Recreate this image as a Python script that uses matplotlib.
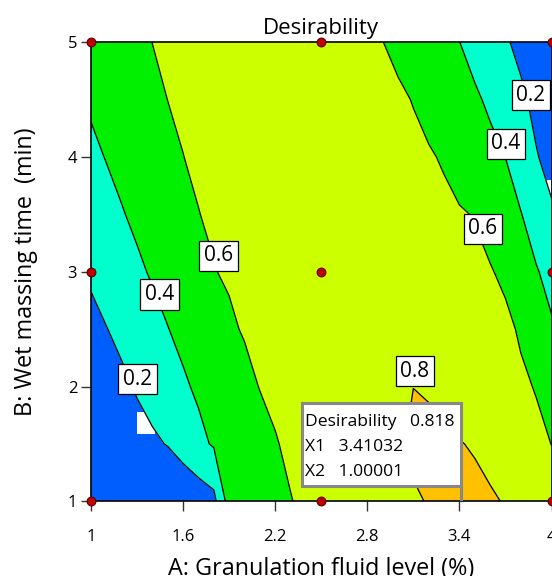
import numpy as np
import matplotlib
matplotlib.use("Agg")
import matplotlib.pyplot as plt
from matplotlib.patches import Rectangle

plt.rcParams['font.family'] = ['Open Sans', 'DejaVu Sans']

# ---------------- data ----------------
# grid of factor A (granulation fluid level, %) and factor B (wet massing time, min)
fluid_level = np.linspace(1.0, 4.0, 31)
massing_time = np.array([1.0, 1.5, 2.0, 2.5, 3.0, 3.5, 4.0, 4.5, 5.0])

# estimated desirability on the grid (rows: massing_time, cols: fluid_level)
desirability = np.array([
    [0.00, 0.00, 0.00, 0.00, 0.00, 0.00, 0.04, 0.09, 0.146, 0.485, 0.513, 0.541, 0.568, 0.596, 0.621, 0.645,
     0.669, 0.693, 0.718, 0.742, 0.766, 0.791, 0.804, 0.811, 0.817, 0.812, 0.808, 0.796, 0.754, 0.712, 0.670],
    [0.00, 0.03, 0.08, 0.134, 0.17, 0.209, 0.283, 0.357, 0.418, 0.462, 0.506, 0.550, 0.593, 0.620, 0.644, 0.668,
     0.692, 0.716, 0.740, 0.764, 0.788, 0.815, 0.813, 0.809, 0.802, 0.796, 0.780, 0.730, 0.690, 0.645, 0.598],
    [0.06, 0.11, 0.162, 0.217, 0.27, 0.323, 0.377, 0.426, 0.472, 0.518, 0.564, 0.604, 0.623, 0.642, 0.661, 0.681,
     0.700, 0.719, 0.738, 0.757, 0.776, 0.7995, 0.795, 0.788, 0.775, 0.739, 0.703, 0.667, 0.631, 0.5895, 0.52],
    [0.13, 0.195, 0.246, 0.296, 0.346, 0.396, 0.442, 0.489, 0.535, 0.582, 0.610, 0.626, 0.642, 0.658, 0.674, 0.690,
     0.706, 0.722, 0.738, 0.754, 0.770, 0.768, 0.762, 0.750, 0.730, 0.705, 0.675, 0.640, 0.578, 0.499, 0.42],
    [0.237, 0.282, 0.327, 0.372, 0.417, 0.462, 0.506, 0.551, 0.596, 0.613, 0.628, 0.642, 0.657, 0.672, 0.686, 0.701,
     0.715, 0.730, 0.728, 0.722, 0.712, 0.700, 0.685, 0.668, 0.648, 0.628, 0.612, 0.565, 0.482, 0.413, 0.345],
    [0.307, 0.349, 0.390, 0.432, 0.473, 0.515, 0.557, 0.598, 0.614, 0.629, 0.644, 0.659, 0.675, 0.690, 0.705, 0.720,
     0.718, 0.713, 0.705, 0.695, 0.682, 0.666, 0.648, 0.632, 0.612, 0.594, 0.532, 0.469, 0.407, 0.316, 0.22],
    [0.367, 0.406, 0.445, 0.483, 0.522, 0.561, 0.599, 0.614, 0.629, 0.643, 0.657, 0.671, 0.686, 0.700, 0.699, 0.696,
     0.691, 0.684, 0.676, 0.666, 0.654, 0.634, 0.614, 0.586, 0.539, 0.493, 0.446, 0.399, 0.299, 0.21, 0.15],
    [0.421, 0.457, 0.493, 0.529, 0.565, 0.601, 0.613, 0.626, 0.639, 0.652, 0.664, 0.677, 0.690, 0.688, 0.683, 0.675,
     0.665, 0.655, 0.645, 0.636, 0.625, 0.594, 0.552, 0.510, 0.467, 0.425, 0.372, 0.301, 0.230, 0.16, 0.09],
    [0.447, 0.486, 0.525, 0.563, 0.601, 0.612, 0.623, 0.635, 0.646, 0.657, 0.669, 0.680, 0.678, 0.673, 0.666, 0.657,
     0.646, 0.634, 0.620, 0.602, 0.562, 0.522, 0.482, 0.442, 0.402, 0.341, 0.280, 0.218, 0.158, 0.098, 0.04],
])

# design points (3x3 factorial)
design_a = [1, 2.5, 4, 1, 2.5, 4, 1, 2.5, 4]
design_b = [5, 5, 5, 3, 3, 3, 1, 1, 1]

contour_levels = [0.2, 0.4, 0.6, 0.8]
label_texts = ['0.6', '0.4', '0.2', '0.6', '0.4', '0.2', '0.8']
label_a = [1.831, 1.447, 1.303, 3.552, 3.704, 3.866, 3.111]
label_b = [3.139, 2.802, 2.065, 3.376, 4.117, 4.538, 2.133]

opt_desirability = 0.818
opt_x1 = 3.41032
opt_x2 = 1.00001

x_ticks = [1, 1.6, 2.2, 2.8, 3.4, 4]
y_ticks = [1, 2, 3, 4, 5]

# ---------------- figure ----------------
fig = plt.figure(figsize=(5.52, 5.76), dpi=100)
ax = fig.add_axes([0.1649, 0.1297, 0.8342, 0.7969])

band_colors = ['#005EFF', '#00FFCC', '#00F000', '#CCFF00', '#FFC000']
A, B = np.meshgrid(fluid_level, massing_time)
cf = ax.contourf(A, B, desirability, levels=[-0.01] + contour_levels + [1.0],
                 colors=band_colors, zorder=1)
cs = ax.contour(A, B, desirability, levels=contour_levels, colors='black',
                linewidths=0.9, zorder=2)

# white label remnants inside the lowest band (as in the reference)
blue_path = cf.get_paths()[0]
for (x0, y0, x1, y1) in [(1.301, 1.588, 1.415, 1.776), (3.914, 3.597, 4.0, 3.797)]:
    r = Rectangle((x0, y0), x1 - x0, y1 - y0, facecolor='white', edgecolor='none', zorder=1.5)
    ax.add_patch(r)
    r.set_clip_path(blue_path, ax.transData)

for t, xa, yb in zip(label_texts, label_a, label_b):
    ax.text(xa, yb, t, ha='center', va='center', fontsize=15, zorder=3,
            bbox=dict(boxstyle='square,pad=0.22', fc='white', ec='black', lw=0.9))

ax.scatter(design_a, design_b, s=40, c='#C00000', edgecolors='#5a0000',
           linewidths=0.8, zorder=6, clip_on=False)

# optimum flag
box_left, box_bottom, box_top = 2.375, 1.137, 1.860
ax.add_patch(Rectangle((box_left, box_bottom), opt_x1 - box_left, box_top - box_bottom,
                       facecolor='white', edgecolor='#888888', lw=2.2, zorder=7))
ax.plot([opt_x1, opt_x1], [1.0, box_bottom], color='#888888', lw=2.2, zorder=7,
        solid_capstyle='butt')
ax.text(2.396, 1.695, f'Desirability   {opt_desirability:.3f}', fontsize=12.6, va='center', zorder=8)
ax.text(2.396, 1.477, f'X1   {opt_x1:.5f}', fontsize=12.6, va='center', zorder=8)
ax.text(2.396, 1.253, f'X2   {opt_x2:.5f}', fontsize=12.6, va='center', zorder=8)

ax.set_xlim(1, 4)
ax.set_ylim(1, 5)
ax.set_xticks(x_ticks)
ax.set_xticklabels(['1', '1.6', '2.2', '2.8', '3.4', '4'])
ax.set_yticks(y_ticks)
ax.tick_params(direction='out', length=7, width=1, labelsize=12, color='#333333')
ax.tick_params(axis='x', pad=13)
ax.tick_params(axis='y', pad=3)
for s in ax.spines.values():
    s.set_linewidth(1.2)
    s.set_zorder(5)

ax.set_title('Desirability', fontsize=16, pad=6)
ax.set_xlabel('A: Granulation fluid level (%)', fontsize=16.8, va='baseline')
ax.xaxis.set_label_coords(0.5, -0.16)
ax.set_ylabel('B: Wet massing time  (min)', fontsize=16.8, va='baseline')
ax.yaxis.set_label_coords(-0.128, 0.5)

fig.savefig('out.png', dpi=100)
